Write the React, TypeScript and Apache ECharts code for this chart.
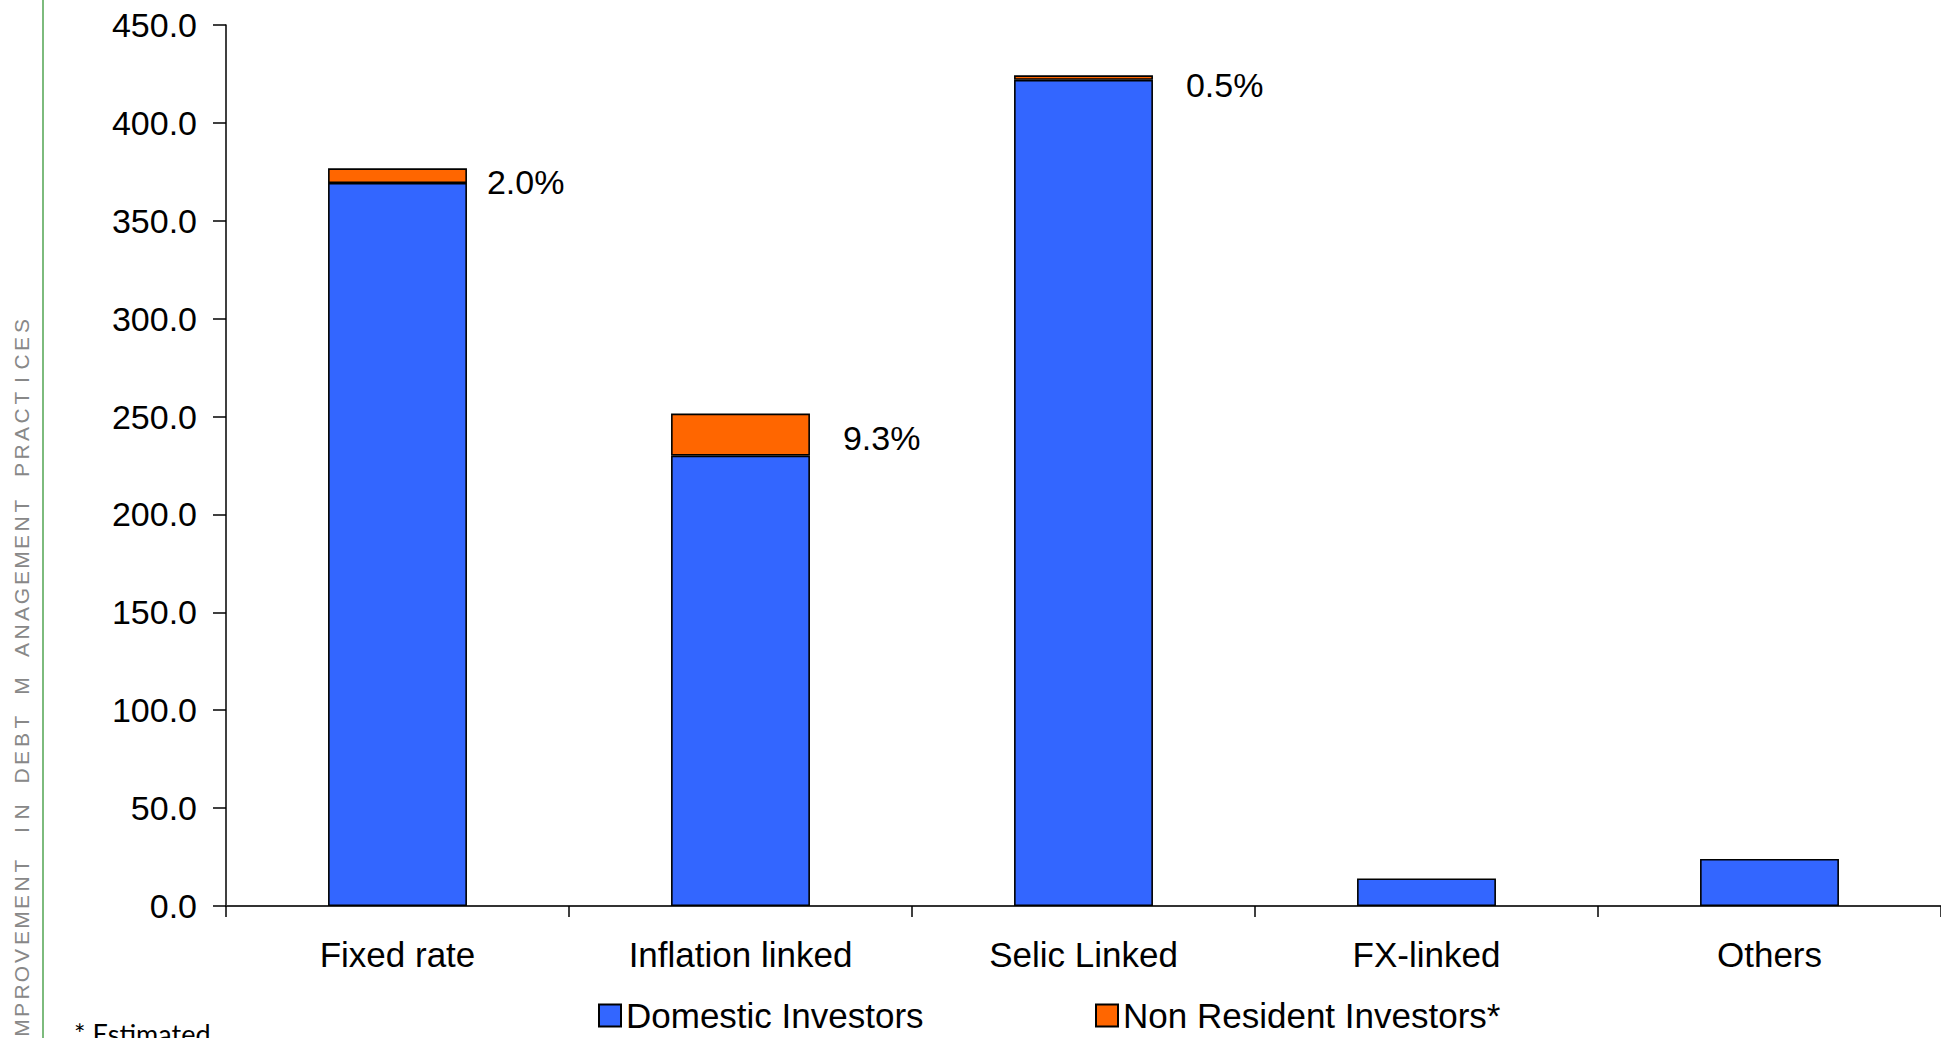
import React, { useEffect, useRef } from "react";
import * as echarts from "echarts";

const categories = ["Fixed rate", "Inflation linked", "Selic Linked", "FX-linked", "Others"];
const domesticValues = [369.3, 230.0, 422.0, 14.1, 24.0];
const nonResidentValues: (number | null)[] = [7.5, 21.5, 2.3, null, null];
const nonResidentShareLabels = ["2.0%", "9.3%", "0.5%", "", ""];
const yTicks = { min: 0, max: 450, interval: 50 };
const seriesNames = ["Domestic Investors", "Non Resident Investors*"];
const sideTitle = "IMPROVEMENT IN DEBT M ANAGEMENT PRACTICES";
const footnote = "* Estimated";

const labelLayout = [
  { distance: 20, dy: 6 },
  { distance: 33, dy: 3 },
  { distance: 33, dy: 7 },
  { distance: 30, dy: 0 },
  { distance: 30, dy: 0 },
];

const FONT = "'Liberation Sans', Arial, sans-serif";

export default function App() {
  const ref = useRef<HTMLDivElement>(null);
  useEffect(() => {
    if (!ref.current) return;
    const chart = echarts.init(ref.current, undefined, { renderer: "svg" });

    const sideLetters: any[] = [];
    const N = sideTitle.length;
    for (let i = 0; i < N; i++) {
      const ch = sideTitle[i];
      if (ch === " ") continue;
      sideLetters.push({
        type: "text",
        x: 21,
        y: 326 + (N - 1 - i) * 18,
        rotation: Math.PI / 2,
        style: {
          text: ch,
          fontFamily: "'Liberation Sans Narrow', 'Liberation Sans', sans-serif",
          fontSize: 21,
          fill: "#888888",
          align: "center",
          verticalAlign: "middle",
        },
        silent: true,
      });
    }

    const legendText = { fontSize: 35, fontFamily: FONT, color: "#000" };

    const option: any = {
      animation: false,
      backgroundColor: "#ffffff",
      grid: { left: 226, right: 0, top: 25, bottom: 132, containLabel: false },
      legend: [
        {
          data: [seriesNames[0]],
          left: 593,
          top: 993,
          itemWidth: 22,
          itemHeight: 22,
          icon: "rect",
          textStyle: legendText,
          selectedMode: false,
        },
        {
          data: [seriesNames[1]],
          left: 1090,
          top: 993,
          itemWidth: 22,
          itemHeight: 22,
          icon: "rect",
          textStyle: legendText,
          selectedMode: false,
        },
      ],
      xAxis: {
        type: "category",
        data: categories,
        axisLine: { show: true, lineStyle: { color: "#333", width: 2 } },
        axisTick: { show: true, alignWithLabel: false, length: 11, lineStyle: { color: "#000", width: 1.5 } },
        axisLabel: { fontSize: 35, fontFamily: FONT, color: "#000", margin: 31 },
        splitLine: { show: false },
      },
      yAxis: {
        type: "value",
        min: yTicks.min,
        max: yTicks.max,
        interval: yTicks.interval,
        axisLine: { show: true, lineStyle: { color: "#000", width: 1.5 } },
        axisTick: { show: true, length: 13, lineStyle: { color: "#000", width: 1.5 } },
        axisLabel: {
          fontSize: 34,
          fontFamily: FONT,
          color: "#000",
          margin: 29,
          formatter: (v: number) => v.toFixed(1),
        },
        splitLine: { show: false },
      },
      series: [
        {
          name: seriesNames[0],
          type: "bar",
          stack: "total",
          barWidth: "40.5%",
          data: domesticValues,
          itemStyle: { color: "#3366ff", borderColor: "#000", borderWidth: 1.6 },
        },
        {
          name: seriesNames[1],
          type: "bar",
          stack: "total",
          barWidth: "40.5%",
          data: nonResidentValues.map((v, i) =>
            v == null
              ? "-"
              : {
                  value: v,
                  label: {
                    show: true,
                    position: "right",
                    distance: labelLayout[i].distance,
                    offset: [0, labelLayout[i].dy],
                    formatter: nonResidentShareLabels[i],
                  },
                }
          ),
          itemStyle: { color: "#ff6600", borderColor: "#000", borderWidth: 1.6 },
          label: { fontSize: 34, fontFamily: FONT, color: "#000" },
        },
      ],
      graphic: [
        {
          type: "line",
          shape: { x1: 43, y1: 0, x2: 43, y2: 1038 },
          style: { stroke: "#7dbb7d", lineWidth: 2 },
          silent: true,
        },
        ...sideLetters,
        {
          type: "text",
          left: 74,
          top: 1020,
          style: {
            text: footnote,
            fontFamily: "Lato, 'Open Sans', sans-serif",
            fontSize: 27,
            fill: "#000",
          },
          silent: true,
        },
      ],
    };
    chart.setOption(option);
    return () => chart.dispose();
  }, []);

  return (
    <div
      ref={ref}
      style={{ position: "fixed", left: 0, top: 0, width: 1941, height: 1038 }}
    />
  );
}
